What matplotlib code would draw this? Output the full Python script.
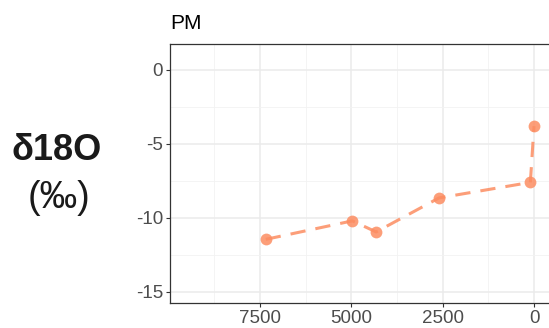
import matplotlib
matplotlib.use("Agg")
import matplotlib.pyplot as plt
from matplotlib.ticker import FixedLocator

plt.rcParams['font.family'] = ['Liberation Sans', 'DejaVu Sans']

# data (age in years BP, d18O in permil)
age = [7340, 4970, 4320, 2600, 100, 0]
d18o = [-11.45, -10.2, -10.95, -8.65, -7.6, -3.8]
x_ticks = [7500, 5000, 2500, 0]
y_ticks = [0, -5, -10, -15]
panel_title = "PM"
line_color = "#FC8D62"

def main():
    fig = plt.figure(figsize=(5.49, 3.28), dpi=100)
    ax = fig.add_axes([170 / 549, 25 / 328, 379 / 549, 259 / 328])

    ax.plot(age, d18o, color=line_color, linewidth=2.2, dashes=(5, 3.3),
            marker="o", markersize=8.5, markerfacecolor=line_color,
            markeredgewidth=0, alpha=0.85, zorder=3)

    ax.set_xlim(9960, -410)
    ax.set_ylim(-15.75, 1.75)
    ax.xaxis.set_major_locator(FixedLocator(x_ticks))
    ax.xaxis.set_minor_locator(FixedLocator([8750, 6250, 3750, 1250]))
    ax.yaxis.set_major_locator(FixedLocator(y_ticks))
    ax.yaxis.set_minor_locator(FixedLocator([-2.5, -7.5, -12.5]))
    ax.set_xticklabels([str(v) for v in x_ticks])
    ax.set_yticklabels([str(v) for v in y_ticks])

    ax.grid(which="major", color="#EBEBEB", linewidth=1.1, zorder=0)
    ax.grid(which="minor", color="#F2F2F2", linewidth=0.6, zorder=0)
    ax.set_axisbelow(True)

    ax.tick_params(which="major", length=3, width=0.8, color="#333333",
                   labelsize=13.5, labelcolor="#4D4D4D", pad=2)
    ax.tick_params(which="minor", length=0)
    for side in ["left", "bottom", "top"]:
        ax.spines[side].set_color("#333333")
        ax.spines[side].set_linewidth(0.9)
    ax.spines["right"].set_visible(False)

    ax.set_title(panel_title, loc="left", fontsize=15, pad=11)

    fig.text(57 / 549, 1 - 150 / 328, "δ18O", fontsize=26, fontweight="bold",
             ha="center", va="center", color="#1A1A1A")
    fig.text(59 / 549, 1 - 198 / 328, "(‰)", fontsize=27,
             ha="center", va="center", color="#1A1A1A")

    fig.savefig("out.png", dpi=100)

if __name__ == "__main__":
    main()
